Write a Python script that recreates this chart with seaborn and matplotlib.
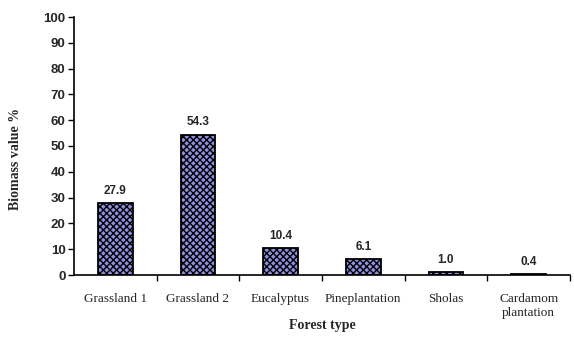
import matplotlib
matplotlib.use("Agg")
import matplotlib.pyplot as plt
import seaborn as sns
import pandas as pd
import numpy as np

categories = ["Grassland 1", "Grassland 2", "Eucalyptus", "Pineplantation", "Sholas", "Cardamom\nplantation"]
values = [27.9, 54.3, 10.4, 6.1, 1.0, 0.4]
y_ticks = [0, 10, 20, 30, 40, 50, 60, 70, 80, 90, 100]

sns.set_theme(style="white")
plt.rcParams["hatch.color"] = "#1a1a4a"
plt.rcParams["hatch.linewidth"] = 1.0

df = pd.DataFrame({"Forest type": categories, "Biomass": values})

fig = plt.figure(figsize=(5.74, 3.38), dpi=100)
ax = fig.add_axes([74 / 574, 1 - 275 / 338, (570 - 74) / 574, (275 - 17) / 338])

sns.barplot(data=df, x="Forest type", y="Biomass", ax=ax, color="#8f8fe0",
            width=0.42, edgecolor="black", linewidth=1.3, saturation=1)
for p in ax.patches:
    p.set_hatch("xxxxx")

for i, v in enumerate(values):
    ax.text(i, v + 2.5, f"{v:.1f}", ha="center", va="bottom",
            fontsize=8.5, fontweight="bold", family="Liberation Sans")

ax.set_xlim(-0.5, len(categories) - 0.5)
ax.set_ylim(0, 100)
ax.set_yticks(y_ticks)
ax.set_yticklabels([str(t) for t in y_ticks], family="Liberation Sans",
                   fontweight="bold", fontsize=9.5)
ax.set_xticks(range(len(categories)))
ax.set_xticklabels(categories, family="Liberation Serif", fontsize=9.5)
ax.set_xticks(np.arange(len(categories)) + 0.5, minor=True)
ax.tick_params(axis="x", which="major", length=0, pad=13)
ax.tick_params(axis="x", which="minor", length=4, width=1, direction="out", color="black", bottom=True)
ax.tick_params(axis="y", length=4, width=1, direction="out", color="black", left=True, pad=2)

for s in ["top", "right"]:
    ax.spines[s].set_visible(False)
for s in ["left", "bottom"]:
    ax.spines[s].set_color("black")
    ax.spines[s].set_linewidth(1.2)

ax.set_xlabel("Forest type", family="Liberation Serif", fontweight="bold", fontsize=10)
ax.xaxis.set_label_coords(0.5, -0.17)
ax.set_ylabel("Biomass value %", family="Liberation Serif", fontweight="bold", fontsize=10)
ax.yaxis.set_label_coords(-0.105, 0.45)

fig.savefig("out.png", dpi=100)
